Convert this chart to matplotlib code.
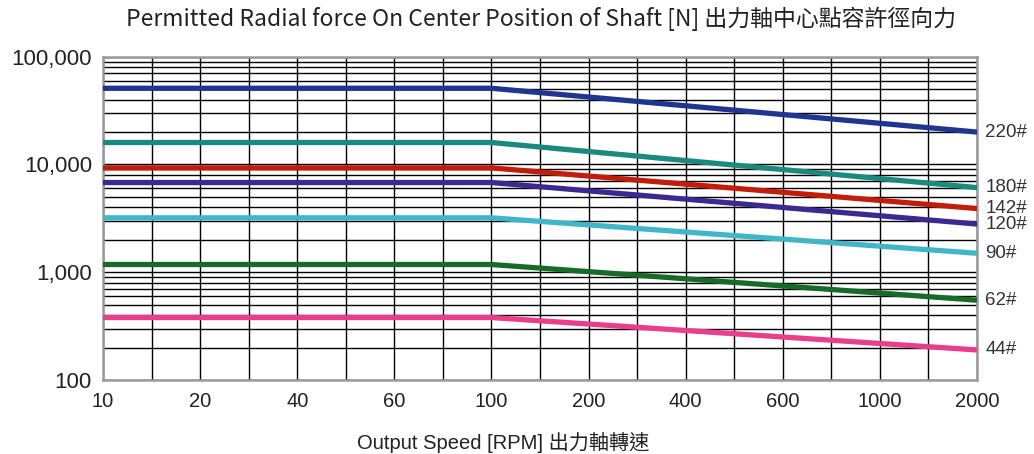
import numpy as np
import matplotlib.pyplot as plt
from matplotlib.ticker import LogLocator, FixedLocator, NullFormatter

plt.rcParams['font.family'] = ['Liberation Sans', 'Noto Sans CJK TC', 'DejaVu Sans']

# speed categories (equally spaced on the chart, with one unlabeled grid step between labels)
speed_labels = ['10', '20', '40', '60', '100', '200', '400', '600', '1000', '2000']
# speeds where each curve has a known value: start, knee, end
curve_speeds = ['10', '100', '2000']

models = ['220#', '180#', '142#', '120#', '90#', '62#', '44#']
force_220 = [51000, 51000, 20000]
force_180 = [16000, 16000, 6100]
force_142 = [9300, 9300, 3900]
force_120 = [6800, 6800, 2800]
force_90 = [3200, 3200, 1500]
force_62 = [1180, 1180, 550]
force_44 = [380, 380, 190]
forces = [force_220, force_180, force_142, force_120, force_90, force_62, force_44]
colors = ['#1f3590', '#1b8a7e', '#c21d0c', '#3b2890', '#41b6c9', '#176b28', '#e83e8c']

# label positions on the categorical axis (every second grid line)
tick_pos = {s: 2 * i for i, s in enumerate(speed_labels)}
x_curve = [tick_pos[s] for s in curve_speeds]

fig = plt.figure(figsize=(10.34, 4.54), dpi=100)
ax = fig.add_axes([0.0996, 0.163, 0.8453, 0.712])

for name, vals, c in zip(models, forces, colors):
    ax.plot(x_curve, vals, color=c, linewidth=3.8, solid_capstyle='butt', zorder=3)
    ax.text(x_curve[-1] + 0.17, vals[-1], name, fontsize=13.5, color='#333333',
            va='center', ha='left')

ax.set_yscale('log')
ax.set_ylim(100, 100000)
ax.set_xlim(0, 2 * (len(speed_labels) - 1))

ax.xaxis.set_major_locator(FixedLocator(list(tick_pos.values())))
ax.set_xticklabels(speed_labels)
ax.xaxis.set_minor_locator(FixedLocator(np.arange(0, 2 * len(speed_labels) - 1)))
ax.yaxis.set_major_locator(FixedLocator([100, 1000, 10000, 100000]))
ax.set_yticklabels(['100', '1,000', '10,000', '100,000'])
ax.yaxis.set_minor_locator(LogLocator(base=10, subs=np.arange(2, 10)))
ax.yaxis.set_minor_formatter(NullFormatter())

ax.grid(True, which='both', color='black', linewidth=1.0, zorder=1)
ax.set_axisbelow(True)
ax.tick_params(which='both', length=0)
ax.tick_params(axis='y', labelsize=16, pad=8, labelcolor='#222222')
ax.tick_params(axis='x', labelsize=14.5, pad=9, labelcolor='#222222')

for sp in ax.spines.values():
    sp.set_color('#9a9a9a')
    sp.set_linewidth(1.8)

fig.text(0.523, 0.958, 'Permitted Radial force On Center Position of Shaft [N] 出力軸中心點容許徑向力',
         ha='center', va='center', fontsize=16.5, color='#222222',
         family=['Noto Sans CJK TC', 'DejaVu Sans'])
fig.text(0.487, 0.025, 'Output Speed [RPM] 出力軸轉速', ha='center', va='center',
         fontsize=14.5, color='#222222')

fig.savefig('out.png', dpi=100)
